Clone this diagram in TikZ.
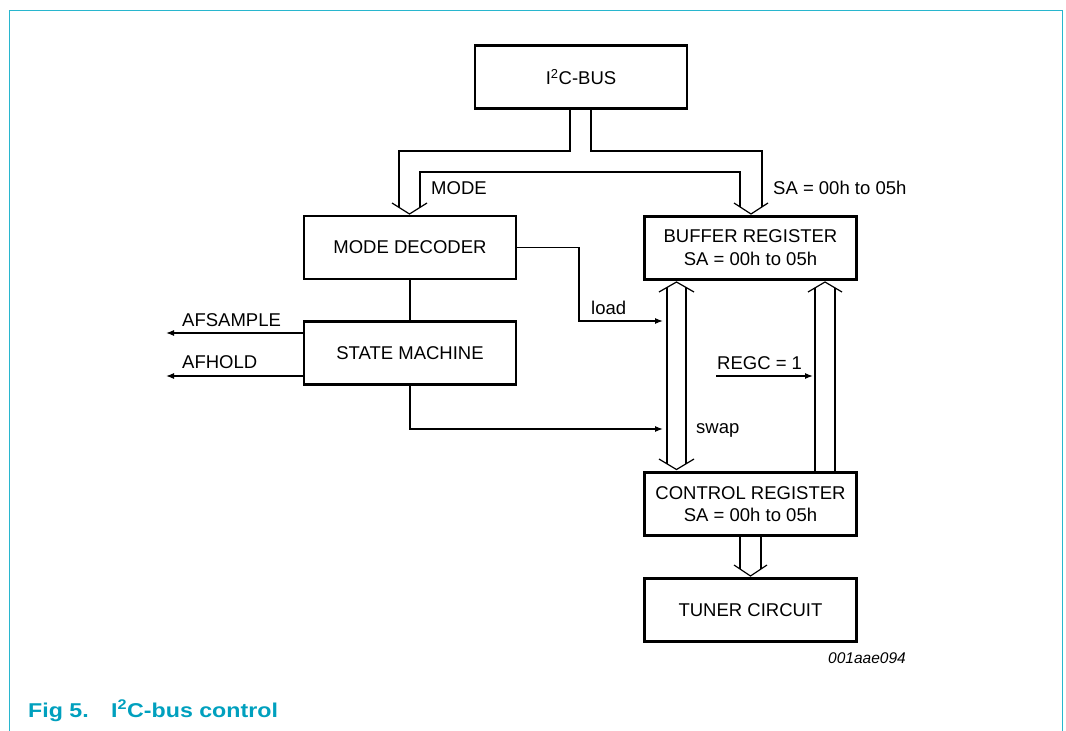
\documentclass[tikz,border=0pt]{standalone}
\usepackage{fontspec}
\setmainfont{Liberation Sans}
\newfontfamily\capfont[FakeStretch=1.16]{Liberation Sans Bold}
\usetikzlibrary{arrows.meta}
\definecolor{framecol}{RGB}{40,182,206}
\definecolor{capcol}{RGB}{0,160,190}
\begin{document}
\begin{tikzpicture}[x=1pt,y=-1pt,
  blk/.style={draw,line width=2.6pt,minimum width=212pt,minimum height=63pt,inner sep=0pt,align=center,
    font=\fontsize{18.5}{22.7}\selectfont},
  conn/.style={line width=1.2pt},
  sig/.style={line width=1.2pt,-{Latex[length=8pt,width=6pt]}},
  lbl/.style={inner sep=0pt,anchor=base west,font=\fontsize{18.5}{22.7}\selectfont},
  bus/.style={line width=1.2pt,line join=miter}]
\useasboundingbox (0,0) rectangle (1066,731);
\draw[framecol,line width=1pt] (9,731) -- (9,10) -- (1062,10) -- (1062,731);

\node[blk] (i2c) at (581,77) {I\textsuperscript{2}C-BUS};
\node[blk] (md) at (410,247.5) {MODE DECODER};
\node[blk] (br) at (750.5,247.7) {BUFFER REGISTER\\SA = 00h to 05h};
\node[blk] (sm) at (410,353) {STATE MACHINE};
\node[blk] (cr) at (750.5,504) {CONTROL REGISTER\\SA = 00h to 05h};
\node[blk] (tc) at (750.5,610) {TUNER CIRCUIT};

% bus from I2C to mode decoder and buffer register
\draw[bus] (570,108.8) -- (570,151) -- (399,151) -- (399,207.4);
\draw[bus] (591,108.8) -- (591,151) -- (762,151) -- (762,206.9);
\draw[bus] (420,207.4) -- (420,172) -- (740,172) -- (740,206.9);
\draw[bus] (392,203) -- (409.5,214) -- (427,203);
\draw[bus] (734,203) -- (751,214) -- (768,203);

% buffer <-> control (double hollow arrow)
\draw[bus] (667,287.4) -- (667,463.8);
\draw[bus] (686,287.4) -- (686,463.8);
\draw[bus] (659,292) -- (676.5,282) -- (694,292);
\draw[bus] (659,459) -- (676.5,469.5) -- (694,459);

% control -> buffer (hollow up arrow)
\draw[bus] (815,472) -- (815,287.9);
\draw[bus] (835,472) -- (835,287.9);
\draw[bus] (808,292) -- (825,282) -- (842,292);

% control -> tuner
\draw[bus] (740,536) -- (740,569);
\draw[bus] (761,536) -- (761,569);
\draw[bus] (734,565) -- (750.5,576) -- (767,565);

% signal lines
\coordinate (loadend) at (663,321);
\coordinate (swapend) at (663,429);
\coordinate (regcstart) at (716,376);
\coordinate (regcend) at (813,376);
\coordinate (afs) at (166,333);
\coordinate (afh) at (166,376);
\draw[conn] (md.south) -- (sm.north);
\draw[sig] (md.east) -- (579,247.5) -- (579,321) -- (loadend);
\draw[sig] (sm.south) -- (410,429) -- (swapend);
\draw[sig] (regcstart) -- (regcend);
\draw[sig] (sm.west |- afs) -- (afs);
\draw[sig] (sm.west |- afh) -- (afh);

% labels
\node[lbl] (lmode) at (431,194) {MODE};
\node[lbl] (lsa) at (773,194) {SA = 00h to 05h};
\node[lbl] (lload) at (591,314) {load};
\node[lbl] (lswap) at (696,433) {swap};
\node[lbl] (lregc) at (717,369) {REGC = 1};
\node[lbl] (lafs) at (182,326) {AFSAMPLE};
\node[lbl] (lafh) at (182,368) {AFHOLD};
\node[inner sep=0pt,anchor=base west,font=\fontsize{15.5}{18}\selectfont\itshape] (code) at (828,663) {001aae094};
\node[inner sep=0pt,anchor=base west,text=capcol,font=\capfont\fontsize{20}{24}\selectfont] (capfig) at (28,717) {Fig 5.};
\node[inner sep=0pt,anchor=base west,text=capcol,font=\capfont\fontsize{20}{24}\selectfont] (captxt) at (111,717) {I\textsuperscript{2}C-bus control};
\end{tikzpicture}
\end{document}
